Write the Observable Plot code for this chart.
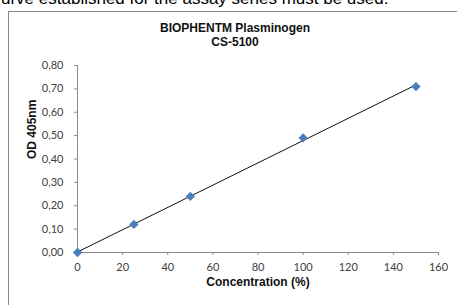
<!DOCTYPE html>
<html><head><meta charset="utf-8">
<script src="https://cdn.jsdelivr.net/npm/d3@7"></script>
<script src="https://cdn.jsdelivr.net/npm/@observablehq/plot@0.6"></script>
<style>
body{margin:0;background:#fff;width:457px;height:305px;overflow:hidden;position:relative;}
#top{position:absolute;left:1px;top:-11px;font-family:"Liberation Sans",Arial,sans-serif;font-size:17px;color:#000;white-space:nowrap;}
#box{position:absolute;left:8px;top:11px;width:460px;height:310px;border-left:1px solid #8a8a8a;border-top:1px solid #8a8a8a;}
#title{position:absolute;left:0;width:470px;top:21px;text-align:center;font-family:"Liberation Sans",Arial,sans-serif;font-weight:bold;font-size:12px;line-height:14px;color:#111;}
#chart{position:absolute;left:0;top:0;}
</style></head>
<body>
<div id="top">urve established for the assay series must be used.</div>
<div id="box"></div>
<div id="chart"></div>
<div id="title">BIOPHENTM Plasminogen<br>CS-5100</div>
<script>
const concentration = [0, 25, 50, 100, 150];
const od405 = [0.00, 0.12, 0.24, 0.49, 0.71];
const xTicks = [0, 20, 40, 60, 80, 100, 120, 140, 160];
const yTicks = [0, 0.1, 0.2, 0.3, 0.4, 0.5, 0.6, 0.7, 0.8];
const xTitle = "Concentration (%)";
const yTitle = "OD 405nm";

const data = concentration.map((c, i) => ({c, od: od405[i]}));
const fmt = d => d.toFixed(2).replace(".", ",");

const chart = Plot.plot({
  width: 457, height: 305,
  marginLeft: 77, marginRight: 19, marginTop: 65, marginBottom: 53,
  style: {fontFamily: "Lato, sans-serif", fontSize: "11px", color: "#404040", background: "transparent"},
  x: {domain: [0, 160], ticks: xTicks},
  y: {domain: [0, 0.8], ticks: yTicks, tickFormat: fmt},
  marks: [
    Plot.axisX({ticks: xTicks, tickSize: 3, tickPadding: 8, stroke: "#8a8a8a", label: null, fontSize: 11}),
    Plot.axisY({ticks: yTicks, tickSize: 3, tickPadding: 11, tickFormat: fmt, stroke: "#8a8a8a", label: null, fontSize: 11}),
    Plot.ruleX([0], {stroke: "#8a8a8a"}),
    Plot.ruleY([0], {stroke: "#8a8a8a"}),
    Plot.linearRegressionY(data, {x: "c", y: "od", ci: 0, stroke: "#111", strokeWidth: 1}),
    Plot.dot(data, {x: "c", y: "od", symbol: "diamond2", r: 4.2, fill: "#4a7ebb", stroke: "none"}),
    Plot.text([xTitle], {frameAnchor: "bottom", dy: 33, fontWeight: "bold", fontSize: 12, fill: "#111", fontFamily: "Liberation Sans, Arial, sans-serif"}),
    Plot.text([yTitle], {frameAnchor: "left", dx: -45, rotate: -90, fontWeight: "bold", fontSize: 12, fill: "#111", fontFamily: "Liberation Sans, Arial, sans-serif"})
  ]
});
document.getElementById("chart").append(chart);
</script>
</body></html>
